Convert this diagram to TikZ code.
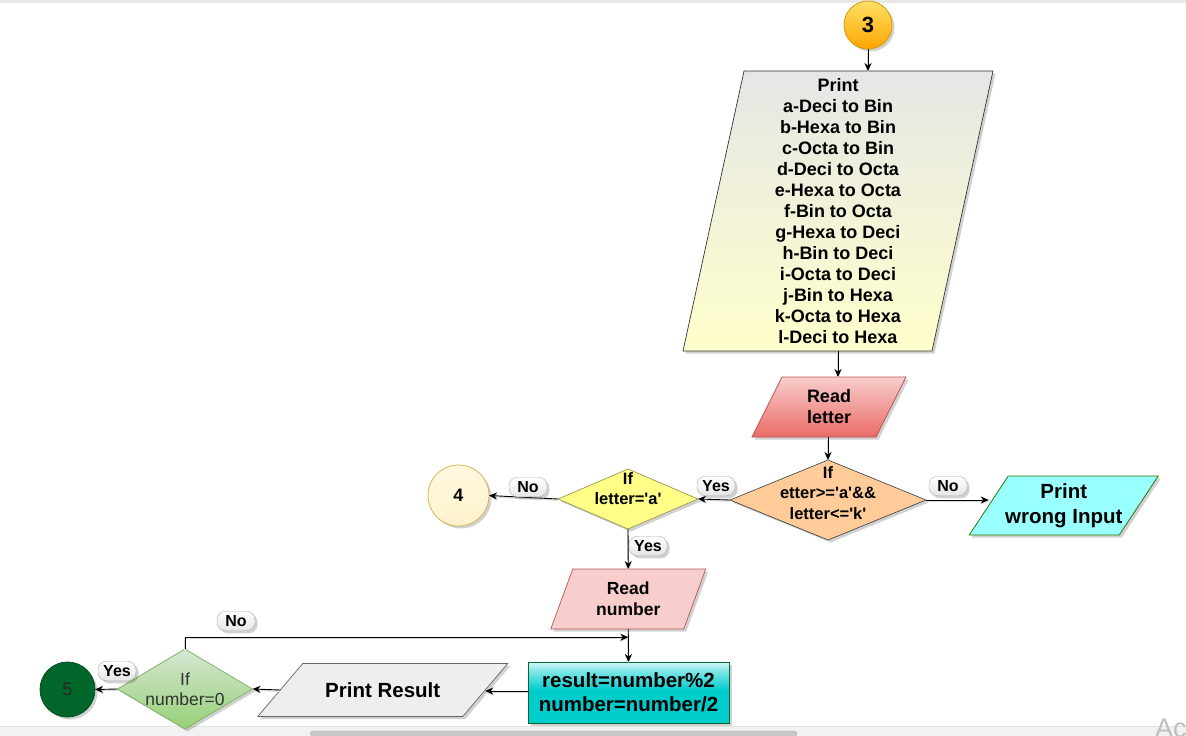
\documentclass[tikz,border=0pt]{standalone}
\usepackage{fontspec}
\setmainfont{Liberation Sans}
\usetikzlibrary{shapes.geometric,arrows.meta,shadows,backgrounds,calc}
\definecolor{printtop}{HTML}{E6E6E6}
\definecolor{printbot}{HTML}{FFFFCC}
\definecolor{redtop}{HTML}{F8CECC}
\definecolor{redbot}{HTML}{EA6B66}
\definecolor{redline}{HTML}{B85450}
\definecolor{orfill}{HTML}{FFCC99}
\definecolor{darkline}{HTML}{36393D}
\definecolor{yelfill}{HTML}{FFFF88}
\definecolor{yelline}{HTML}{8C8C4A}
\definecolor{creamfill}{HTML}{FFF2CC}
\definecolor{creamline}{HTML}{D6B656}
\definecolor{cyanfill}{HTML}{99FFFF}
\definecolor{greenline}{HTML}{2D7600}
\definecolor{resdark}{HTML}{00CCCC}
\definecolor{reslight}{HTML}{D6F8F8}
\definecolor{resline}{HTML}{006633}
\definecolor{prfill}{HTML}{EEEEEE}
\definecolor{prline}{HTML}{666666}
\definecolor{gtop}{HTML}{D5E8D4}
\definecolor{gbot}{HTML}{97D077}
\definecolor{gline}{HTML}{82B366}
\definecolor{darkgreen}{HTML}{006629}
\definecolor{darkgreenline}{HTML}{004D1F}
\definecolor{goldtop}{HTML}{FFE066}
\definecolor{goldbot}{HTML}{FFA500}
\definecolor{goldline}{HTML}{D79B00}
\pgfdeclareverticalshading{glass}{100bp}{color(0bp)=(resdark); color(25bp)=(resdark); color(52bp)=(resdark); color(68bp)=(reslight!60!resdark); color(75bp)=(reslight); color(100bp)=(reslight)}
\newcommand{\parashape}[3]{%
  \path[#3] ([xshift=#2/2]#1.north west) -- ([xshift=#2/2]#1.north east)
    -- ([xshift=-#2/2]#1.south east) -- ([xshift=-#2/2]#1.south west) -- cycle;}
\newcommand{\sq}{\textquotesingle}
\begin{document}
\begin{tikzpicture}[x=1pt,y=-1pt,
  base/.style={inner sep=0pt, outer sep=0pt},
  txt/.style={base, align=center, font=\bfseries\fontsize{18}{21}\selectfont},
  shd/.style={drop shadow={shadow xshift=2.5pt, shadow yshift=-2.5pt, opacity=0.3, fill=black!60}},
  conn/.style={draw=black, line width=0.9pt, -{Stealth[length=8pt,width=7pt]},
    preaction={draw=gray!30, line width=1.2pt, transform canvas={yshift=-1.2pt}}},
  lbl/.style={draw=gray!65, rounded corners=8.5pt, top color=white, bottom color=gray!20,
    font=\bfseries\fontsize{16}{18}\selectfont, inner xsep=5pt, inner ysep=1.5pt,
    minimum height=19.5pt, minimum width=38pt, shd},
  dia/.style={diamond, base, shd},
  circ/.style={circle, base, shd},
]
\useasboundingbox (0,0) rectangle (1186,736);

% ---- nodes ----
\node[circ, draw=goldline, line width=0.8pt, top color=goldtop, bottom color=goldbot,
  minimum size=48pt, font=\bfseries\fontsize{22}{22}\selectfont] (c3) at (868,25) {3};

\node[txt, minimum width=249pt, minimum height=280pt] (print) at (838,211)
  {Print\\a-Deci to Bin\\b-Hexa to Bin\\c-Octa to Bin\\d-Deci to Octa\\e-Hexa to Octa\\f-Bin to Octa\\g-Hexa to Deci\\h-Bin to Deci\\i-Octa to Deci\\j-Bin to Hexa\\k-Octa to Hexa\\l-Deci to Hexa};

\node[txt, minimum width=124pt, minimum height=60pt] (rl) at (829,407) {Read\\letter};

\node[dia, draw=darkline, line width=0.6pt, fill=orfill, minimum width=196pt, minimum height=80pt] (d1) at (828,500) {};
\node[txt, font=\bfseries\fontsize{16.5}{20.5}\selectfont] (d1t) at (828,493) {If\\etter>=\sq a\sq\&\&\\letter<=\sq k\sq};

\node[dia, draw=yelline, line width=0.6pt, fill=yelfill, minimum width=140pt, minimum height=60pt] (d2) at (628,499) {};
\node[txt, font=\bfseries\fontsize{16.5}{20}\selectfont] (d2t) at (628,489) {If\\letter=\sq a\sq};

\node[circ, draw=creamline, line width=0.8pt, top color=creamfill!60, bottom color=creamfill,
  minimum size=61pt, font=\bfseries\fontsize{18}{18}\selectfont] (c4) at (458.5,495.5) {4};

\node[txt, minimum width=150pt, minimum height=59pt, font=\bfseries\fontsize{20.5}{25}\selectfont] (pw) at (1063.75,505.5) {Print\\wrong Input};

\node[txt, minimum width=133pt, minimum height=60pt, font=\bfseries\fontsize{17.5}{21}\selectfont] (rn) at (628.25,599) {Read\\number};

\node[txt, draw=resline, line width=0.7pt, shading=glass, shd, minimum width=201pt, minimum height=61pt,
  font=\bfseries\fontsize{20.5}{24}\selectfont] (res) at (628.5,692.5) {result=number\%2\\number=number/2};

\node[txt, minimum width=205pt, minimum height=53pt, font=\bfseries\fontsize{20.5}{24}\selectfont] (pr) at (382.75,690) {Print Result};

\node[dia, draw=gline, line width=0.8pt, top color=gtop, bottom color=gbot, minimum width=135pt, minimum height=80pt] (d3) at (185,689) {};
\node[base, align=center, text=black!80, font=\fontsize{17.5}{20}\selectfont] (d3t) at (185,689) {If\\number=0};

\node[circ, draw=darkgreenline, line width=0.8pt, fill=darkgreen, minimum size=55pt,
  text=black!85, font=\fontsize{18}{18}\selectfont] (c5) at (67.5,689.5) {5};

% ---- background layer: page strips and parallelogram outlines ----
\begin{scope}[on background layer]
  \fill[gray!18] (0,0) rectangle (1186,2.5);
  \fill[gray!10] (0,726) rectangle (1186,736);
  \draw[gray!22, line width=0.6pt] (0,726) -- (1186,726);
  \fill[gray!45, rounded corners=2.5pt] (310,730.5) rectangle (797,737);
  \parashape{print}{61}{draw=black!80, line width=0.7pt, top color=printtop, bottom color=printbot, shd}
  \parashape{rl}{30}{draw=redline, line width=0.7pt, top color=redtop, bottom color=redbot, shd}
  \parashape{pw}{39}{draw=greenline, line width=0.8pt, fill=cyanfill, shd}
  \parashape{rn}{22}{draw=redline, line width=0.7pt, fill=redtop, shd}
  \parashape{pr}{45}{draw=prline, line width=0.7pt, fill=prfill, shd}
\end{scope}

% ---- connectors ----
\draw[conn] (c3.south) -- (c3.south |- print.north);
\draw[conn] (print.south) -- (print.south |- rl.north);
\draw[conn] (d1.north |- rl.south) -- (d1.north);
\draw[conn] (d1.west) -- (d2.east);
\draw[conn] (d1.east) -- (d1.east -| pw.west);
\draw[conn] (d2.west) -- (c4.east);
\draw[conn] (d2.south) -- (rn.north);
\draw[conn] (rn.south) -- (res.north);
\draw[conn] ([yshift=1.5pt]res.west) -- ([yshift=1.5pt]res.west -| pr.east);
\draw[conn] (pr.west) -- (d3.east);
\draw[conn] (d3.west) -- (c5.east);
\coordinate (loopin) at ($(rn.south)!0.25!(res.north)$);
\draw[conn] (d3.north) |- (loopin);

% ---- connector labels ----
\node[lbl] (lyes1) at (716,486) {Yes};
\node[lbl] (lno1) at (948,486) {No};
\node[lbl] (lno2) at (528,487) {No};
\node[lbl] (lyes2) at (648,546) {Yes};
\node[lbl] (lno3) at (236,621) {No};
\node[lbl] (lyes3) at (117,671) {Yes};

% ---- watermark fragment ----
\begin{scope}
  \clip (0,0) rectangle (1186,736);
  \node[anchor=base west, inner sep=0pt, text=gray!50, font=\fontsize{27}{27}\selectfont] (act) at (1155,737) {Act};
\end{scope}
\end{tikzpicture}
\end{document}
